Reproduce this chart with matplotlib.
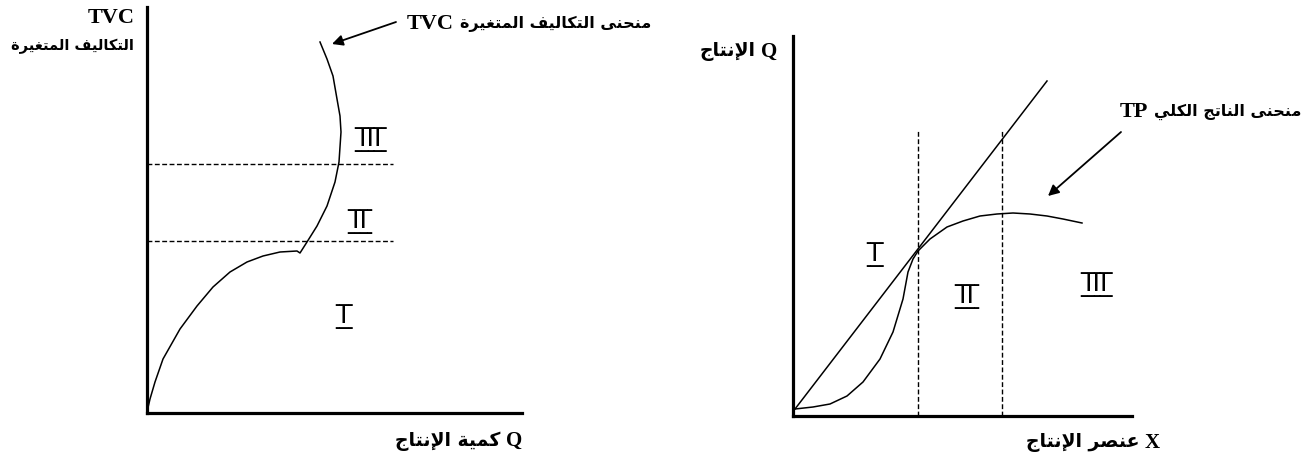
# plot.py - TVC and TP stage diagrams (Arabic labels)
import matplotlib
matplotlib.use("Agg")
import matplotlib.pyplot as plt

W, H = 1312, 464

# --- data (units = pixels from each origin) ---
# left panel: total variable cost curve
tvc_q = [0, 3, 8, 16, 33, 50, 66, 83, 100, 116, 133, 150, 153,
         160, 170, 180, 188, 192, 194, 193, 190, 186, 180, 173]
tvc_cost = [1, 14, 31, 54, 84, 107, 126, 141, 151, 157, 161, 162, 160,
            171, 187, 207, 231, 251, 281, 297, 314, 337, 354, 371]
tvc_stage_levels = [172, 249]
tvc_stage_end = 246
tvc_stage_labels = ["I", "II", "III"]
tvc_stage_x = [197, 213, 223]
tvc_stage_y = [97, 192, 274]

# right panel: total product curve and ray from the origin
tp_x = [2, 20, 37, 54, 70, 87, 100, 110, 115, 120, 125, 137, 154, 170,
        187, 204, 220, 237, 254, 270, 289]
tp_y = [7, 9, 12, 20, 34, 57, 84, 117, 144, 157, 165, 177, 189, 195,
        200, 202, 203, 202, 200, 197, 193]
ray_x = [2, 254]
ray_y = [7, 335]
tp_bounds = [125, 209]
tp_bound_top = 285
tp_stage_labels = ["I", "II", "III"]
tp_stage_x = [82, 174, 304]
tp_stage_y = [162, 120, 132]

# --- small Arabic shaper (matplotlib does no shaping / bidi) ---
FORMS = {  # isolated, final, initial, medial
    "ا": ("\uFE8D", "\uFE8E", None, None),
    "إ": ("\uFE87", "\uFE88", None, None),
    "ة": ("\uFE93", "\uFE94", None, None),
    "ت": ("\uFE95", "\uFE96", "\uFE97", "\uFE98"),
    "ج": ("\uFE9D", "\uFE9E", "\uFE9F", "\uFEA0"),
    "ح": ("\uFEA1", "\uFEA2", "\uFEA3", "\uFEA4"),
    "ر": ("\uFEAD", "\uFEAE", None, None),
    "ص": ("\uFEB9", "\uFEBA", "\uFEBB", "\uFEBC"),
    "ع": ("\uFEC9", "\uFECA", "\uFECB", "\uFECC"),
    "غ": ("\uFECD", "\uFECE", "\uFECF", "\uFED0"),
    "ف": ("\uFED1", "\uFED2", "\uFED3", "\uFED4"),
    "ك": ("\uFED9", "\uFEDA", "\uFEDB", "\uFEDC"),
    "ل": ("\uFEDD", "\uFEDE", "\uFEDF", "\uFEE0"),
    "م": ("\uFEE1", "\uFEE2", "\uFEE3", "\uFEE4"),
    "ن": ("\uFEE5", "\uFEE6", "\uFEE7", "\uFEE8"),
    "ى": ("\uFEEF", "\uFEF0", None, None),
    "ي": ("\uFEF1", "\uFEF2", "\uFEF3", "\uFEF4"),
}
LAM_ALEF = {"ا": ("\uFEFB", "\uFEFC", None, None),
            "إ": ("\uFEF9", "\uFEFA", None, None)}


def shape_word(word):
    tokens = []
    i = 0
    while i < len(word):
        c = word[i]
        if c == "ل" and i + 1 < len(word) and word[i + 1] in LAM_ALEF:
            tokens.append(LAM_ALEF[word[i + 1]])
            i += 2
        else:
            tokens.append(FORMS.get(c, (c, c, None, None)))
            i += 1
    out = []
    for k, f in enumerate(tokens):
        prev_join = k > 0 and tokens[k - 1][2] is not None
        next_join = k < len(tokens) - 1 and f[2] is not None
        if prev_join and next_join:
            out.append(f[3])
        elif prev_join:
            out.append(f[1])
        elif next_join:
            out.append(f[2])
        else:
            out.append(f[0])
    return "".join(out)


def ar(text):
    # shape each word, then reverse everything for left-to-right drawing
    shaped = " ".join(shape_word(w) for w in text.split(" "))
    return shaped[::-1]


BARS = "\u0305\u0332"  # combining overline + low line


def roman(text):
    # roman numeral with bars above and below, padded with thin spaces
    return "\u2009" + "".join(c + BARS for c in text) + "\u2009" + BARS


LATIN = "Liberation Serif"
ARABIC = "DejaVu Sans"
NUM_FONT = ["DejaVu Sans"]


def fig_xy(px, py):
    return px / W, 1 - py / H


def label(fig, ax, px, py, latin, arabic, latin_size, arabic_size, latin_side="left"):
    # latin part is anchored at (px, py); the arabic part is glued next to it
    ha = "left" if latin_side == "left" else "right"
    t = fig.text(*fig_xy(px, py), latin, family=LATIN, fontsize=latin_size,
                 weight="bold", ha=ha, va="center")
    if latin_side == "left":
        xy, off, a_ha = (1, 0.5), (4, 0), "left"
    else:
        xy, off, a_ha = (0, 0.5), (-4, 0), "right"
    ax.annotate(arabic, xy=xy, xycoords=t, xytext=off, textcoords="offset points",
                family=ARABIC, fontsize=arabic_size, weight="bold",
                ha=a_ha, va="center", annotation_clip=False)
    return t


def setup_axes(fig, left, top, right, bottom):
    ax = fig.add_axes([left / W, 1 - bottom / H, (right - left) / W, (bottom - top) / H])
    ax.set_xlim(0, right - left)
    ax.set_ylim(0, bottom - top)
    for side in ["top", "right"]:
        ax.spines[side].set_visible(False)
    for side in ["left", "bottom"]:
        ax.spines[side].set_linewidth(2.3)
        ax.spines[side].set_capstyle("projecting")
    ax.set_xticks([])
    ax.set_yticks([])
    ax.patch.set_alpha(0)
    return ax


def painel_tvc(fig):
    ax = setup_axes(fig, 147, 8, 522, 414)
    ax.plot(tvc_q, tvc_cost, color="black", lw=1.1, clip_on=False)
    for lvl in tvc_stage_levels:
        ax.plot([0, tvc_stage_end], [lvl, lvl], color="black", lw=1.0,
                dashes=(3.5, 1.8))
    for lab, x, y in zip(tvc_stage_labels, tvc_stage_x, tvc_stage_y):
        ax.text(x, y, roman(lab), family=NUM_FONT, fontsize=18, ha="center", va="center")

    # axis labels
    fig.text(*fig_xy(135, 18), "TVC", family=LATIN, fontsize=16, weight="bold",
             ha="right", va="center")
    fig.text(*fig_xy(134, 46), ar("التكاليف المتغيرة"), family=ARABIC, fontsize=10.5,
             weight="bold", ha="right", va="center")
    label(fig, ax, 522, 441, "Q", ar("كمية الإنتاج"), 15, 13.5, latin_side="right")
    # curve name + arrow
    label(fig, ax, 407, 24, "TVC", ar("منحنى التكاليف المتغيرة"), 16, 11.5)
    ax.annotate("", xy=(185, 369), xycoords="data",
                xytext=fig_xy(396, 23), textcoords="figure fraction",
                arrowprops=dict(arrowstyle="-|>", color="black", lw=1.3,
                                mutation_scale=16, shrinkA=0, shrinkB=0))
    return ax


def painel_tp(fig):
    ax = setup_axes(fig, 793, 37, 1132, 417)
    ax.plot(ray_x, ray_y, color="black", lw=1.1, clip_on=False)
    ax.plot(tp_x, tp_y, color="black", lw=1.1, clip_on=False)
    for bx in tp_bounds:
        ax.plot([bx, bx], [0, tp_bound_top], color="black", lw=1.0,
                dashes=(3.5, 1.8))
    for lab, x, y in zip(tp_stage_labels, tp_stage_x, tp_stage_y):
        ax.text(x, y, roman(lab), family=NUM_FONT, fontsize=18, ha="center", va="center")

    label(fig, ax, 777, 52, "Q", ar("الإنتاج"), 15, 13.5, latin_side="right")
    label(fig, ax, 1160, 443, "X", ar("عنصر الإنتاج"), 15, 13.5, latin_side="right")
    label(fig, ax, 1120, 112, "TP", ar("منحنى الناتج الكلي"), 16, 11.5)
    ax.annotate("", xy=(255, 220), xycoords="data",
                xytext=fig_xy(1121, 133), textcoords="figure fraction",
                arrowprops=dict(arrowstyle="-|>", color="black", lw=1.3,
                                mutation_scale=16, shrinkA=0, shrinkB=0))
    return ax


def main():
    fig = plt.figure(figsize=(W / 100, H / 100), dpi=100)
    fig.patch.set_facecolor("white")
    painel_tvc(fig)
    painel_tp(fig)
    fig.savefig("out.png", dpi=100)
    plt.close(fig)


if __name__ == "__main__":
    main()
